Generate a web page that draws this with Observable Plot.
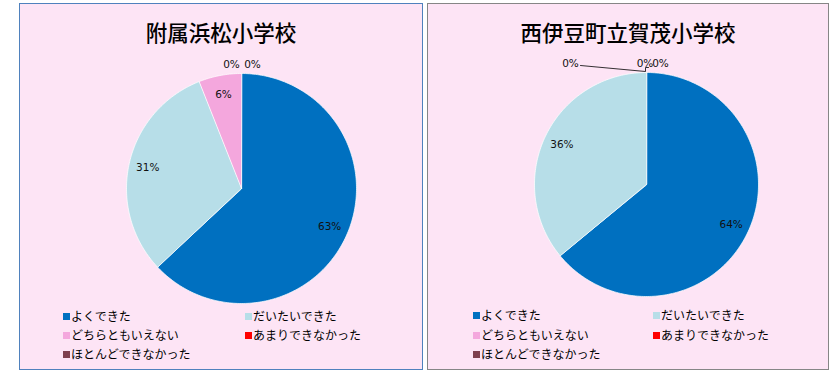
<!DOCTYPE html>
<html><head><meta charset="utf-8">
<script src="https://cdn.jsdelivr.net/npm/d3@7"></script>
<script src="https://cdn.jsdelivr.net/npm/@observablehq/plot@0.6"></script>
<style>
body{margin:0;background:#fff;width:834px;height:376px;position:relative;overflow:hidden;font-family:"Noto Sans CJK JP",sans-serif;color:#000;}
.panel{position:absolute;box-sizing:border-box;background:#fde4f5;}
.title{position:absolute;left:0;right:0;text-align:center;font-size:21.5px;line-height:26px;white-space:nowrap;font-weight:500;}
.item{position:absolute;height:14px;line-height:14px;font-size:12px;white-space:nowrap;}
.sw{display:inline-block;width:7px;height:7px;margin-right:1px;vertical-align:middle;position:relative;top:-1px;}
.plot{position:absolute;left:0;top:0;}
</style>
</head><body>
<script>
// ---- data ----
const categories = ["よくできた","だいたいできた","どちらともいえない","あまりできなかった","ほとんどできなかった"];
const colors = ["#0070c0","#b7dee8","#f4a7dd","#ff0000","#7f3f4f"];
const schools = ["附属浜松小学校","西伊豆町立賀茂小学校"];
const valuesHamamatsu = [63,31,6,0,0];
const valuesKamo = [64,36,0,0,0];
const seriesValues = [valuesHamamatsu, valuesKamo];

// ---- layout (styles) ----
const layouts = [
  {left:19, top:3, width:404, height:367, border:"#4f81bd", cx:241, cy:188, r:115, titleY:32,
   legX:[63,245], legY:[316,335,354], zeroDx:[-10,11], zeroY:64, leader:false},
  {left:427, top:3, width:402, height:367, border:"#868686", cx:646, cy:184, r:112, titleY:32,
   legX:[473,653], legY:[315,335,354], zeroDx:[-76,-1.5,14], zeroY:63, leader:true}
];

schools.forEach((school, i) => {
  const L = layouts[i];
  const vals = seriesValues[i];
  const panel = document.createElement("div");
  panel.className = "panel";
  Object.assign(panel.style, {left:L.left+"px", top:L.top+"px", width:L.width+"px", height:L.height+"px", border:"1px solid "+L.border});
  document.body.appendChild(panel);
  const ox = L.left + 1, oy = L.top + 1;
  const W = L.width - 2, H = L.height - 2;
  const px = L.cx - ox, py = L.cy - oy, r = L.r;

  const total = d3.sum(vals);
  let acc = 0;
  const polys = [], labels = [];
  let zeroIdx = 0;
  vals.forEach((v, k) => {
    const a0 = acc / total * 2 * Math.PI;
    acc += v;
    const a1 = acc / total * 2 * Math.PI;
    if (v > 0) {
      polys.push({cat: categories[k], x: 0, y: 0});
      const n = Math.max(2, Math.ceil((a1 - a0) / (Math.PI / 180)));
      for (let s = 0; s <= n; s++) {
        const a = a0 + (a1 - a0) * s / n;
        polys.push({cat: categories[k], x: Math.sin(a), y: Math.cos(a)});
      }
      const am = (a0 + a1) / 2;
      labels.push({x: 0.835 * Math.sin(am), y: 0.835 * Math.cos(am), text: v + "%"});
    } else {
      const dx = L.zeroDx[zeroIdx++] || 0;
      labels.push({x: dx / r, y: (L.cy - L.zeroY) / r, text: v + "%", zero: true});
    }
  });
  const marks = [
    Plot.line(polys, {x:"x", y:"y", z:"cat", fill:"cat", stroke:"#ffffff", strokeWidth:0.8, strokeOpacity:0.9, curve:"linear-closed"}),
    Plot.text(labels, {x:"x", y:"y", text:"text", fontSize:10.5, fontFamily:"DejaVu Sans, Verdana, sans-serif", fill:"#111"})
  ];
  if (L.leader) {
    const first = labels.find(d => d.zero);
    const lead = [
      {x: first.x + 10 / r, y: first.y - 2 / r},
      {x: -1 / r, y: (L.cy - 71) / r},
      {x: -1 / r, y: (L.cy - 67) / r},
      {x: 2 / r, y: (L.cy - 67) / r}
    ];
    marks.push(Plot.line(lead, {x:"x", y:"y", stroke:"#000", strokeWidth:0.8}));
  }
  const chart = Plot.plot({
    width: W, height: H, margin: 0,
    x: {domain:[-1,1], range:[px - r, px + r], axis:null},
    y: {domain:[-1,1], range:[py + r, py - r], axis:null},
    color: {domain: categories, range: colors},
    style: {background:"transparent", overflow:"visible"},
    marks
  });
  chart.classList.add("plot");
  panel.appendChild(chart);

  const t = document.createElement("div");
  t.className = "title";
  t.textContent = school;
  t.style.top = (L.titleY - oy - 13) + "px";
  panel.appendChild(t);

  categories.forEach((c, k) => {
    const it = document.createElement("div");
    it.className = "item";
    it.style.left = (L.legX[k % 2] - ox) + "px";
    it.style.top = (L.legY[Math.floor(k / 2)] - oy - 7) + "px";
    const sw = document.createElement("span");
    sw.className = "sw";
    sw.style.background = colors[k];
    it.appendChild(sw);
    it.appendChild(document.createTextNode(c));
    panel.appendChild(it);
  });
});
</script>
</body></html>
